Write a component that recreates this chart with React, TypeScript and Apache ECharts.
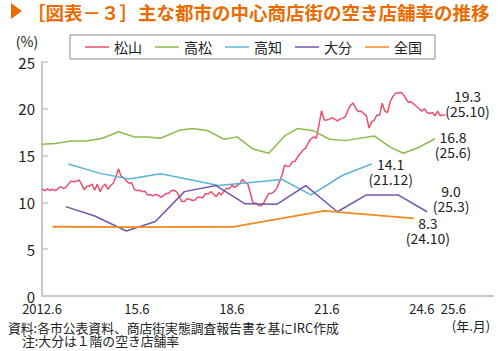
import React, { useEffect, useRef } from 'react';
import * as echarts from 'echarts';

// x positions are months counted from 2012.6
const tickPositions = [0, 36, 72, 108, 144, 156];
const tickLabels = ['2012.6', '15.6', '18.6', '21.6', '24.6', '25.6'];

const seriesNames = ['松山', '高松', '高知', '大分', '全国'];
const seriesColors = ['#E8506C', '#8CBB4B', '#5AB4D8', '#7556AC', '#F08A24'];
const endValues = ['19.3', '16.8', '14.1', '9.0', '8.3'];
const endDates = ['25.10', '25.6', '21.12', '25.3', '24.10'];

// 松山: monthly values from month 0
const matsuyama = [
  11.45, 11.25, 11.45, 11.3, 11.4, 11.25, 11.45, 11.7, 11.5, 11.6,
  11.95, 12.3, 12.2, 12.25, 12.4, 11.95, 11.35, 11.7, 11.75, 11.95,
  11.3, 11.95, 11.15, 11.7, 11.95, 11.4, 11.8, 12.05, 12.7, 13.6,
  12.8, 12.65, 12.3, 12.05, 12.1, 11.4, 11.25, 11.3, 11.15, 11.2,
  10.8, 10.85, 10.7, 10.85, 10.8, 10.55, 10.7, 10.95, 10.95, 11.25,
  11.3, 11.15, 10.7, 10.1, 10.1, 10.4, 10.35, 10.2, 10.25, 10.55,
  10.55, 10.5, 10.95, 10.9, 11.15, 10.9, 10.6, 11.05, 10.8, 11.2,
  11.5, 11.45, 11.85, 11.6, 11.8, 12.0, 12.45, 12.15, 12.0, 11.0,
  9.9, 9.95, 9.7, 9.65, 9.9, 10.45, 10.95, 10.95, 11.15, 11.5,
  12.2, 12.9, 14.0, 13.85, 13.9, 14.35, 14.4, 14.9, 15.25, 15.6,
  15.8, 16.4, 16.8, 17.0, 16.85, 18.25, 19.8, 18.8, 18.8, 18.9,
  19.05, 18.9, 18.7, 18.9, 19.0, 19.15, 19.85, 20.4, 20.6, 20.0,
  19.7, 19.75, 19.5, 19.25, 17.95, 18.6, 18.8, 19.35, 19.3, 20.6,
  19.75, 19.6, 20.75, 21.3, 21.65, 21.7, 21.75, 21.55, 21.05, 20.7,
  20.75, 20.5, 20.25, 20.0, 19.75, 20.0, 19.6, 19.5, 19.6, 19.25,
  19.75, 19.25, 19.35, 19.3,
];

const takamatsu = [
  [0, 16.2], [5, 16.3], [11, 16.55], [17, 16.55], [23, 16.85], [29, 17.55],
  [35, 17.0], [40, 17.0], [45, 16.85], [52, 17.7], [57, 17.9], [63, 17.65],
  [69, 16.75], [74, 17.0], [80, 15.7], [86, 15.25], [92, 17.1], [97, 17.9],
  [103, 17.65], [109, 16.75], [115, 16.6], [126, 17.1], [132, 15.9],
  [137, 15.25], [143, 15.9], [149, 16.8],
];

const kochi = [
  [10, 14.1], [22, 13.1], [33, 12.5], [45, 13.05], [67, 11.8], [80, 12.15],
  [91, 12.45], [102, 10.8], [114, 12.9], [125, 14.1],
];

const oita = [
  [9, 9.55], [20, 8.55], [32, 6.95], [43, 7.95], [54, 11.15], [66, 11.8],
  [77, 9.85], [89, 9.8], [100, 11.8], [112, 9.0], [123, 10.8], [135, 10.8],
  [146, 9.0],
];

const zenkoku = [
  [4, 7.4], [38, 7.35], [73, 7.4], [107, 9.1], [141, 8.3],
];

const FONT = "'Noto Sans CJK JP', 'Noto Sans', sans-serif";

export default function App() {
  const ref = useRef<HTMLDivElement>(null);
  useEffect(() => {
    if (!ref.current) return;
    const chart = echarts.init(ref.current, undefined, { renderer: 'svg' });
    const datasets = [
      matsuyama.map((v, i) => [i, v]),
      takamatsu,
      kochi,
      oita,
      zenkoku,
    ];
    const labelOffsets = [[22, -12], [18, 6], [19, 7], [24, -13], [14, 12]];
    const series = datasets.map((d, i) => ({
      type: 'line',
      name: seriesNames[i],
      data: d,
      symbol: 'none',
      showSymbol: false,
      silent: true,
      lineStyle: { color: seriesColors[i], width: i === 4 ? 1.8 : 1.5 },
      itemStyle: { color: seriesColors[i] },
      endLabel: {
        show: true,
        formatter: `${endValues[i]}\n(${endDates[i]})`,
        distance: 0,
        offset: labelOffsets[i],
        align: 'center',
        verticalAlign: 'middle',
        fontSize: 14,
        lineHeight: 15,
        color: '#222',
        fontFamily: FONT,
      },
    }));

    chart.setOption({
      animation: false,
      backgroundColor: '#fff',
      textStyle: { fontFamily: FONT },
      grid: { left: 42, right: 7, top: 62, bottom: 55 },
      legend: {
        data: seriesNames.map((n) => ({ name: n, icon: 'rect' })),
        left: 70,
        top: 35,
        padding: [5, 13, 5, 15],
        itemGap: 13,
        itemWidth: 24,
        itemHeight: 1.5,
        borderColor: '#888',
        borderWidth: 1,
        textStyle: { fontSize: 14, color: '#222', fontFamily: FONT },
      },
      xAxis: {
        type: 'value',
        min: 0,
        max: 171,
        interval: 12,
        splitLine: { show: false },
        axisTick: { show: false },
        axisLine: { show: true, lineStyle: { color: '#C8C8C8', width: 2 } },
        axisLabel: {
          showMinLabel: true,
          showMaxLabel: false,
          margin: 5,
          fontSize: 13,
          lineHeight: 14,
          color: '#222',
          fontFamily: FONT,
          formatter: (v: number) => {
            const k = tickPositions.indexOf(v);
            return k < 0 ? '' : tickLabels[k];
          },
        },
      },
      yAxis: {
        type: 'value',
        min: 0,
        max: 25,
        interval: 5,
        splitLine: { show: false },
        axisLine: { show: true, lineStyle: { color: '#C8C8C8', width: 2 } },
        axisTick: { show: true, inside: true, length: 6, lineStyle: { color: '#C8C8C8', width: 1.5 } },
        axisLabel: { fontSize: 15, lineHeight: 14, color: '#222', margin: 7, fontFamily: FONT, padding: [0, 0, 3, 0] },
      },
      graphic: [
        {
          type: 'polygon',
          shape: { points: [[11, 3], [22, 11], [11, 19]] },
          style: { fill: '#EA6C00' },
        },
        {
          type: 'text',
          x: 27,
          y: 12,
          style: {
            text: '［図表－３］主な都市の中心商店街の空き店舗率の推移',
            fontSize: 18.5,
            lineHeight: 20,
            fontWeight: 'bold',
            fill: '#EA6C00',
            fontFamily: FONT,
            verticalAlign: 'middle',
            align: 'left',
          },
        },
        {
          type: 'text',
          x: 27,
          y: 41,
          style: { text: '(%)', fontSize: 14, fill: '#222', fontFamily: FONT, align: 'center', verticalAlign: 'middle' },
        },
        {
          type: 'text',
          x: 471,
          y: 325,
          style: { text: '(年.月)', fontSize: 13, fill: '#222', fontFamily: FONT, align: 'center', verticalAlign: 'middle' },
        },
        {
          type: 'text',
          x: 8,
          y: 327,
          style: {
            text: '資料:各市公表資料、商店街実態調査報告書を基にIRC作成',
            fontSize: 12.8, lineHeight: 13, fill: '#222', fontFamily: FONT, align: 'left', verticalAlign: 'middle',
          },
        },
        {
          type: 'text',
          x: 22,
          y: 340,
          style: {
            text: '注:大分は１階の空き店舗率',
            fontSize: 12.8, lineHeight: 13, fill: '#222', fontFamily: FONT, align: 'left', verticalAlign: 'middle',
          },
        },
      ],
      series,
    });
    return () => chart.dispose();
  }, []);
  return (
    <div
      ref={ref}
      style={{ position: 'fixed', left: 0, top: 0, width: 500, height: 351, background: '#fff' }}
    />
  );
}
